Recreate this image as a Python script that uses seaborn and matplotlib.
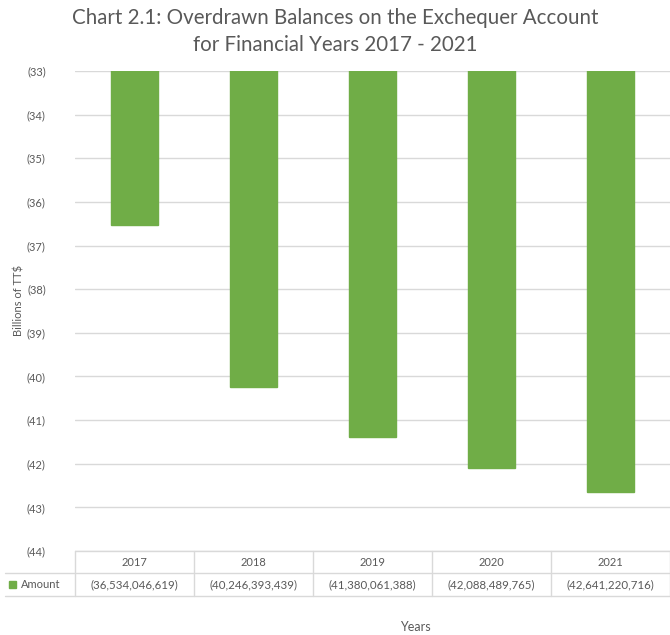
import matplotlib
matplotlib.use("Agg")
import matplotlib.pyplot as plt
import matplotlib.transforms as mtransforms
import seaborn as sns
import pandas as pd

years = ["2017", "2018", "2019", "2020", "2021"]
amounts = [-36534046619, -40246393439, -41380061388, -42088489765, -42641220716]
amount_labels = ["(36,534,046,619)", "(40,246,393,439)", "(41,380,061,388)",
                 "(42,088,489,765)", "(42,641,220,716)"]
yticks = list(range(-44, -32))

sns.set_theme(style="white")
plt.rcParams['font.family'] = ['Lato', 'DejaVu Sans']

df = pd.DataFrame({"Year": years, "Amount": [a / 1e9 for a in amounts]})

W, H = 670, 635
fig = plt.figure(figsize=(W / 100, H / 100), dpi=100)
ax = fig.add_axes([75 / W, 1 - 551 / H, (670 - 75) / W, (551 - 71) / H])

green = "#70AD47"
grid = "#D9D9D9"
txt = "#595959"

sns.barplot(data=df, x="Year", y="Amount", color=green, width=0.4, ax=ax,
            saturation=1, edgecolor=green)
ax.set_ylim(-44, -33)
ax.set_xlim(-0.5, 4.5)
ax.set_yticks(yticks)
ax.set_yticklabels([f"({abs(t)})" for t in yticks], color=txt, fontsize=8)
ax.tick_params(axis="y", length=0, pad=21)
ax.set_xticks([])
ax.set_xlabel("")
ax.set_ylabel("")
for s in ax.spines.values():
    s.set_visible(False)
ax.set_axisbelow(True)
ax.yaxis.grid(True, color=grid, linewidth=1)

# Title
fig.text(335 / W, 1 - 18 / H,
         "Chart 2.1: Overdrawn Balances on the Exchequer Account",
         ha="center", va="center", fontsize=14.8, color=txt)
fig.text(335 / W, 1 - 45 / H,
         "for Financial Years 2017 - 2021",
         ha="center", va="center", fontsize=14.8, color=txt)

fig.text(19 / W, 1 - 300 / H, "Billions of TT$", rotation=90, ha="center",
         va="center", fontsize=8, color=txt)
fig.text(415 / W, 1 - 627 / H, "Years", ha="center", va="center",
         fontsize=9, color=txt)

# Data table
trans = mtransforms.blended_transform_factory(ax.transData, fig.transFigure)
y_top = 1 - 551 / H
y_mid = 1 - 573 / H
y_bot = 1 - 596 / H
lw = 1
ax.plot([-0.5, 4.5], [y_top, y_top], transform=trans, color=grid, lw=lw, clip_on=False)
fig.add_artist(plt.Line2D([5 / W, 1], [y_mid, y_mid], color=grid, lw=lw))
fig.add_artist(plt.Line2D([5 / W, 1], [y_bot, y_bot], color=grid, lw=lw))
for i in range(len(years) + 1):
    ax.plot([i - 0.5, i - 0.5], [y_bot, y_top], transform=trans, color=grid,
            lw=lw, clip_on=False)
for i, (yr, lab) in enumerate(zip(years, amount_labels)):
    ax.text(i, (y_top + y_mid) / 2, yr, transform=trans, ha="center", va="center",
            fontsize=8, color=txt)
    ax.text(i, (y_mid + y_bot) / 2, lab, transform=trans, ha="center", va="center",
            fontsize=8.3, color=txt)
fig.add_artist(plt.Rectangle((9 / W, (y_mid + y_bot) / 2 - 3.5 / H), 7 / W, 7 / H,
                             color=green, transform=fig.transFigure))
fig.text(21 / W, (y_mid + y_bot) / 2, "Amount", ha="left", va="center",
         fontsize=8, color=txt)

fig.savefig("out.png", dpi=100, facecolor="white")
